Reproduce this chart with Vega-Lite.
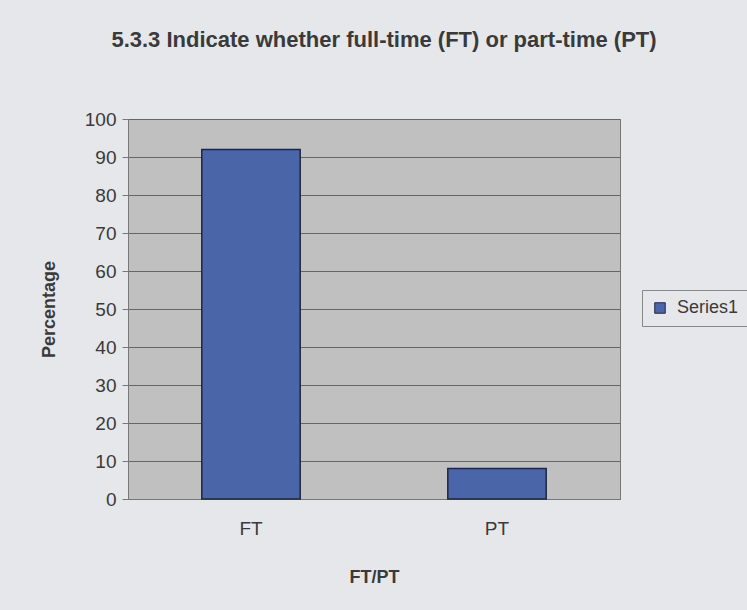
{
  "$schema": "https://vega.github.io/schema/vega-lite/v6.json",
  "autosize": "none",
  "width": 492,
  "height": 380,
  "padding": {"left": 128, "top": 119, "right": 127, "bottom": 111},
  "background": "#e6e7ea",
  "title": {
    "text": "5.3.3 Indicate whether full-time (FT) or part-time (PT)",
    "font": "Liberation Sans",
    "fontSize": 22,
    "fontWeight": "bold",
    "color": "#3a3a3a",
    "anchor": "middle",
    "dx": 10,
    "offset": 58
  },
  "data": {
    "values": [
      {"category": "FT", "percentage": 92, "series": "Series1"},
      {"category": "PT", "percentage": 8, "series": "Series1"}
    ]
  },
  "mark": {"type": "bar", "stroke": "#1e2640", "strokeWidth": 1.5},
  "encoding": {
    "x": {
      "field": "category",
      "type": "nominal",
      "title": "FT/PT",
      "scale": {"paddingInner": 0.6, "paddingOuter": 0.3},
      "axis": {
        "labelAngle": 0,
        "labelFont": "Liberation Sans",
        "labelFontSize": 19,
        "labelColor": "#3a3a3a",
        "labelPadding": 20,
        "titleFont": "Liberation Sans",
        "titleFontSize": 18,
        "titleFontWeight": "bold",
        "titleColor": "#3a3a3a",
        "titlePadding": 30,
        "domainColor": "#777777",
        "ticks": false,
        "grid": false
      }
    },
    "y": {
      "field": "percentage",
      "type": "quantitative",
      "title": "Percentage",
      "scale": {"domain": [0, 100]},
      "axis": {
        "values": [0, 10, 20, 30, 40, 50, 60, 70, 80, 90, 100],
        "labelFont": "Liberation Sans",
        "labelFontSize": 19,
        "labelColor": "#3a3a3a",
        "labelPadding": 6,
        "tickSize": 6,
        "tickColor": "#777777",
        "domainColor": "#777777",
        "gridColor": "#666666",
        "gridOpacity": 1,
        "gridWidth": 1,
        "titleFont": "Liberation Sans",
        "titleFontSize": 18,
        "titleFontWeight": "bold",
        "titleColor": "#3a3a3a",
        "titlePadding": 26
      }
    },
    "color": {
      "field": "series",
      "type": "nominal",
      "scale": {"range": ["#4a66a8"]},
      "legend": {
        "title": null,
        "orient": "none",
        "legendX": 514,
        "legendY": 171,
        "symbolType": "square",
        "symbolSize": 110,
        "symbolStrokeColor": "#1e2640",
        "symbolStrokeWidth": 1,
        "labelFont": "Liberation Sans",
        "labelFontSize": 18,
        "labelColor": "#3a3a3a",
        "strokeColor": "#888888",
        "padding": 9,
        "labelOffset": 8
      }
    }
  },
  "config": {
    "view": {"fill": "#c0c0c0", "stroke": "#777777", "strokeWidth": 1}
  }
}
